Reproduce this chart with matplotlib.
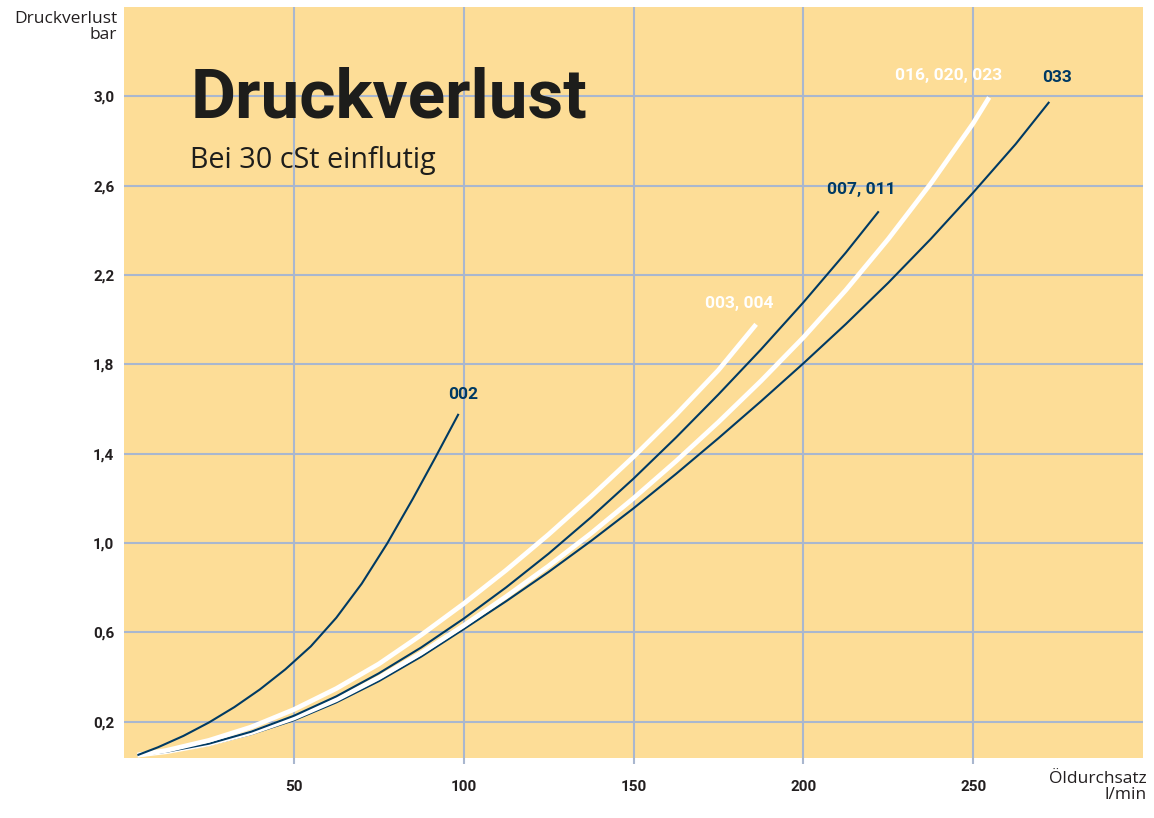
import numpy as np
import matplotlib.pyplot as plt

# Daten
x_002 = [4, 10, 17.5, 25, 32.5, 40, 47.5, 55, 62.5, 70, 77.5, 85, 91.5, 98.5]
y_002 = [0.05, 0.085, 0.136, 0.196, 0.265, 0.344, 0.434, 0.537, 0.665, 0.818, 0.998, 1.197, 1.378, 1.578]

x_003 = [4, 12.5, 25, 37.5, 50, 62.5, 75, 87.5, 100, 112.5, 125, 137.5, 150, 162.5, 175, 186.1]
y_003 = [0.05, 0.071, 0.116, 0.176, 0.254, 0.348, 0.458, 0.588, 0.728, 0.878, 1.038, 1.208, 1.386, 1.574, 1.774, 1.979]

x_007 = [4, 12.5, 25, 37.5, 50, 62.5, 75, 87.5, 100, 112.5, 125, 137.5, 150, 162.5, 175, 187.5, 200, 212.5, 222.2]
y_007 = [0.05, 0.065, 0.101, 0.155, 0.226, 0.313, 0.416, 0.532, 0.661, 0.801, 0.952, 1.115, 1.288, 1.472, 1.665, 1.866, 2.077, 2.3, 2.485]

x_016 = [4, 12.5, 25, 37.5, 50, 62.5, 75, 87.5, 100, 112.5, 125, 137.5, 150, 162.5, 175, 187.5, 200, 212.5, 225, 237.5, 250, 254.7]
y_016 = [0.05, 0.065, 0.1, 0.15, 0.216, 0.298, 0.396, 0.507, 0.63, 0.76, 0.897, 1.043, 1.2, 1.366, 1.541, 1.725, 1.92, 2.132, 2.361, 2.609, 2.879, 2.995]

x_033 = [4, 12.5, 25, 37.5, 50, 62.5, 75, 87.5, 100, 112.5, 125, 137.5, 150, 162.5, 175, 187.5, 200, 212.5, 225, 237.5, 250, 262.5, 272.4]
y_033 = [0.05, 0.064, 0.096, 0.144, 0.206, 0.286, 0.381, 0.491, 0.614, 0.739, 0.870, 1.009, 1.155, 1.309, 1.469, 1.634, 1.804, 1.980, 2.165, 2.361, 2.569, 2.786, 2.975]

kurven = [
    (x_033, y_033, "navy"),
    (x_016, y_016, "white"),
    (x_007, y_007, "navy"),
    (x_003, y_003, "white"),
    (x_002, y_002, "navy"),
]

labels = ["002", "003, 004", "007, 011", "016, 020, 023", "033"]
label_x = [99.7, 181.0, 217.2, 242.8, 274.6]
label_y = [1.664, 2.071, 2.582, 3.093, 3.084]
label_farbe = ["navy", "white", "navy", "white", "navy"]

x_ticks = [50, 100, 150, 200, 250]
y_ticks = [0.2, 0.6, 1.0, 1.4, 1.8, 2.2, 2.6, 3.0]
y_ticklabels = ["0,2", "0,6", "1,0", "1,4", "1,8", "2,2", "2,6", "3,0"]

# Farben
gelb = "#fddd97"
gitter = "#a9b7cf"
dunkelblau = "#003a63"
farben = {"navy": dunkelblau, "white": "white"}
breiten = {"navy": 1.5, "white": 3.4}

fig = plt.figure(figsize=(11.54, 8.18), dpi=100)
ax = fig.add_axes([124/1154, 60/818, 1019/1154, 751/818])
ax.set_facecolor(gelb)

for xs, ys, f in kurven:
    ax.plot(xs, ys, color=farben[f], lw=breiten[f], solid_capstyle="butt",
            solid_joinstyle="round", zorder=3)

for t, lx, ly, f in zip(labels, label_x, label_y, label_farbe):
    ax.text(lx, ly, t, color=farben[f], fontsize=12.5, fontweight="bold", family="Roboto",
            ha="center", va="center", zorder=4)

ax.set_xlim(0, 300)
ax.set_ylim(0.037, 3.40)
ax.set_xticks(x_ticks)
ax.set_yticks(y_ticks)
ax.set_yticklabels(y_ticklabels)
ax.grid(True, color=gitter, lw=1.5, zorder=1)
ax.set_axisbelow(True)
for s in ax.spines.values():
    s.set_visible(False)
ax.tick_params(axis="x", length=4, width=1.5, color=gitter, pad=12, labelsize=11, labelcolor="#231f20")
ax.tick_params(axis="y", length=0, pad=7, labelsize=11, labelcolor="#231f20")
for lab in ax.get_xticklabels() + ax.get_yticklabels():
    lab.set_fontweight("bold")
    lab.set_family("Roboto")

# Titel
ax.text(0.065, (758 - 117) / 751, "Druckverlust", transform=ax.transAxes, fontsize=50,
        fontweight="bold", family="Roboto", color="#1d1d1b", va="baseline", ha="left")
ax.text(0.065, (758 - 168) / 751, "Bei 30 cSt einflutig", transform=ax.transAxes, fontsize=20.7,
        family="Open Sans", color="#1d1d1b", va="baseline", ha="left")

# Achsenbeschriftungen
fig.text(117/1154, 1 - 11/818, "Druckverlust\nbar", ha="right", va="top", fontsize=12.5,
         family="Open Sans", color="#231f20", linespacing=1.0)
fig.text(1147/1154, 1 - 771/818, "Öldurchsatz\nl/min", ha="right", va="top", fontsize=12.5,
         family="Open Sans", color="#231f20", linespacing=1.0)

fig.savefig("out.png", dpi=100, facecolor="white")
